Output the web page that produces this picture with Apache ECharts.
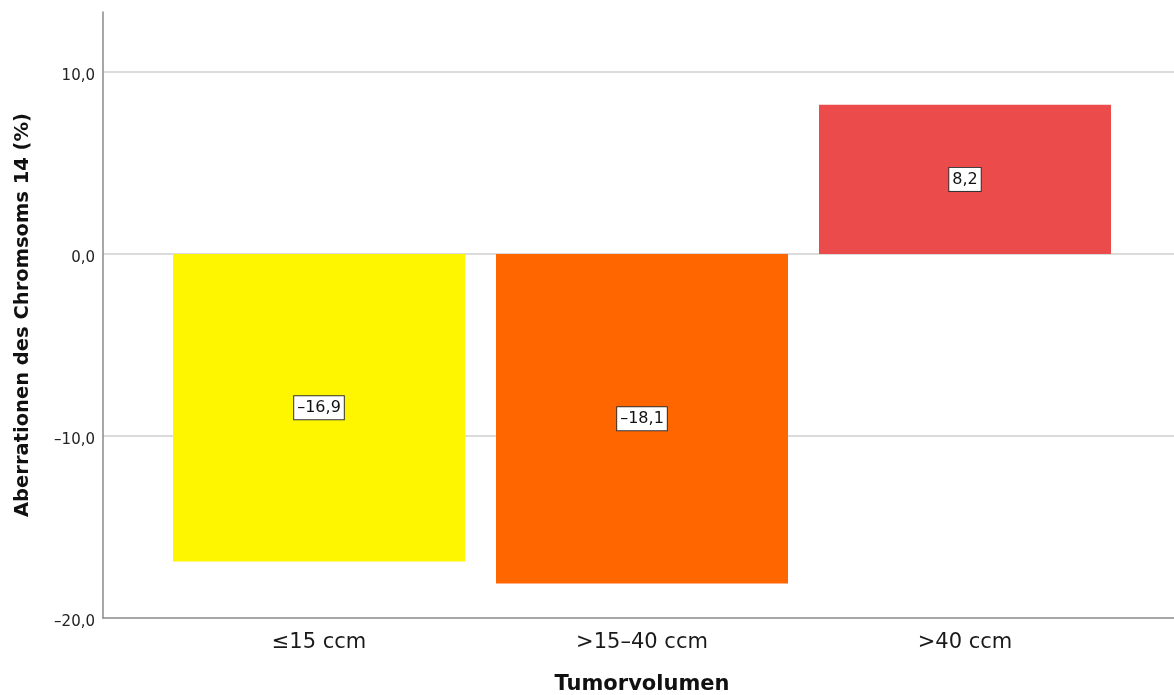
<!DOCTYPE html>
<html>
<head>
<meta charset="utf-8">
<script src="https://cdn.jsdelivr.net/npm/echarts@6/dist/echarts.min.js"></script>
<style>
  html, body { margin: 0; padding: 0; background: #ffffff; }
  #chart { width: 1174px; height: 695px; }
</style>
</head>
<body>
<div id="chart"></div>
<script>
// Tumour volume groups and the mean chromosome 14 aberration per group (%)
const categories = ['≤15 ccm', '>15–40 ccm', '>40 ccm'];
const values = [-16.9, -18.1, 8.2];
const barColors = ['#FDF600', '#FF6600', '#EC4B4C'];

// value axis range and tick step
const yMin = -20;
const yMax = 13.3;
const yStep = 10;

const FONT = 'DejaVu Sans';

// decimal comma, one decimal place, dash as the minus sign
function fmt(v) {
  const s = Math.abs(v).toFixed(1).replace('.', ',');
  return (v < 0 ? '–' : '') + s;
}

const chart = echarts.init(document.getElementById('chart'), null, { renderer: 'canvas' });

chart.setOption({
  backgroundColor: '#ffffff',
  animation: false,
  grid: [
    // frame: y axis with grid lines spanning the full width
    { left: 103, right: 0, top: 12, bottom: 77, containLabel: false, outerBoundsMode: 'none' },
    // bars: narrower band so the three groups sit where they belong
    { left: 157.5, right: 47.5, top: 12, bottom: 77, containLabel: false, outerBoundsMode: 'none' }
  ],
  xAxis: [
    {
      type: 'category',
      gridIndex: 0,
      data: [''],
      axisLine: { show: true, onZero: false, lineStyle: { color: '#8a8a8a', width: 1.5 } },
      axisTick: { show: false },
      axisLabel: { show: false },
      splitLine: { show: false }
    },
    {
      type: 'category',
      gridIndex: 1,
      data: categories,
      axisLine: { show: false, onZero: false },
      axisTick: { show: false },
      axisLabel: { show: true, color: '#1a1a1a', fontFamily: FONT, fontSize: 21, margin: 14 },
      name: 'Tumorvolumen',
      nameLocation: 'middle',
      nameGap: 56,
      nameTextStyle: { color: '#111111', fontFamily: FONT, fontSize: 21, fontWeight: 'bold' }
    }
  ],
  yAxis: [
    {
      type: 'value',
      gridIndex: 0,
      min: yMin,
      max: yMax,
      interval: yStep,
      axisLine: { show: true, lineStyle: { color: '#8a8a8a', width: 1.5 } },
      axisTick: { show: false },
      axisLabel: {
        show: true,
        showMaxLabel: false,
        color: '#222222',
        fontFamily: FONT,
        fontSize: 15,
        margin: 8,
        verticalAlign: 'top',
        lineHeight: 9,
        formatter: fmt
      },
      splitLine: {
        show: true,
        showMinLine: false,
        showMaxLine: false,
        lineStyle: { color: '#cfcfcf', width: 1.5 }
      },
      name: 'Aberrationen des Chromsoms 14 (%)',
      nameLocation: 'middle',
      nameGap: 70,
      nameTextStyle: { color: '#111111', fontFamily: FONT, fontSize: 19.5, fontWeight: 'bold' }
    },
    {
      type: 'value',
      gridIndex: 1,
      min: yMin,
      max: yMax,
      interval: yStep,
      show: false
    }
  ],
  series: [
    {
      type: 'bar',
      xAxisIndex: 1,
      yAxisIndex: 1,
      barWidth: 292,
      data: values.map((v, i) => ({ value: v, itemStyle: { color: barColors[i] } })),
      label: {
        show: true,
        position: 'inside',
        formatter: p => fmt(p.value),
        color: '#111111',
        fontFamily: FONT,
        fontSize: 16,
        backgroundColor: '#ffffff',
        borderColor: '#333333',
        borderWidth: 1,
        padding: [4, 3, 3, 3]
      }
    }
  ]
});
</script>
</body>
</html>
